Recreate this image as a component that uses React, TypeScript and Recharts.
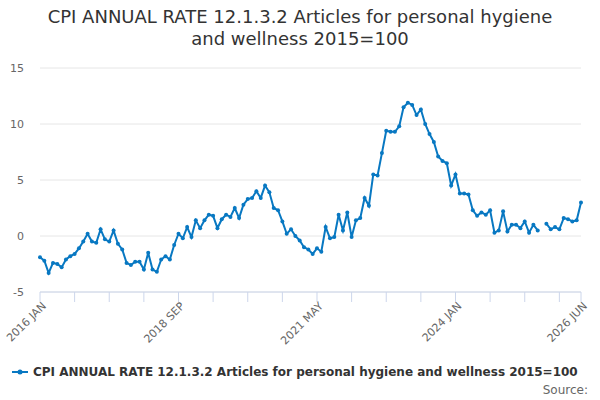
import React from 'react';
import {
  LineChart,
  Line,
  XAxis,
  YAxis,
  CartesianGrid,
  Legend
} from 'recharts';

const TITLE = 'CPI ANNUAL RATE 12.1.3.2 Articles for personal hygiene and wellness 2015=100';
const SERIES_NAME = 'CPI ANNUAL RATE 12.1.3.2 Articles for personal hygiene and wellness 2015=100';

const MONTH_NAMES = ['JAN', 'FEB', 'MAR', 'APR', 'MAY', 'JUN', 'JUL', 'AUG', 'SEP', 'OCT', 'NOV', 'DEC'];
const START_YEAR = 2016;

// annual rate, % (Jan 2016 .. Jun 2026), null = not published
const values: (number | null)[] = [
  -1.9, -2.2, -3.3, -2.4, -2.5, -2.8, -2.1, -1.8, -1.6, -1.1, -0.5, 0.2,
  -0.5, -0.6, 0.6, -0.3, -0.5, 0.5, -0.7, -1.2, -2.4, -2.6, -2.3, -2.3,
  -3.0, -1.5, -3.0, -3.2, -2.1, -1.8, -2.1, -0.8, 0.2, -0.2, 0.8, -0.1,
  1.4, 0.7, 1.4, 1.9, 1.8, 0.7, 1.5, 1.9, 1.7, 2.5, 1.6, 2.8,
  3.3, 3.4, 4.0, 3.4, 4.5, 3.9, 2.5, 2.3, 1.3, 0.2, 0.6, 0.0,
  -0.4, -1.0, -1.2, -1.6, -1.1, -1.4, 0.8, -0.2, -0.1, 1.9, 0.5, 2.1,
  -0.1, 1.4, 1.6, 3.4, 2.7, 5.5, 5.4, 7.4, 9.4, 9.3, 9.3, 9.8,
  11.5, 11.9, 11.7, 10.8, 11.3, 10.0, 9.1, 8.4, 7.1, 6.7, 6.5, 4.5,
  5.5, 3.8, 3.8, 3.7, 2.3, 1.8, 2.1, 1.9, 2.3, 0.3, 0.5, 2.2,
  0.4, 1.0, 1.0, 0.7, 1.3, 0.3, 1.0, 0.5, null, 1.1, 0.6, 0.8,
  0.6, 1.6, 1.5, 1.3, 1.4, 3.0
];

const categories: string[] = values.map(
  (_, i) => `${START_YEAR + Math.floor(i / 12)} ${MONTH_NAMES[i % 12]}`
);

const xTickIndexes = [0, 8, 16, 24, 32, 40, 48, 56, 64, 72, 80, 88, 96, 104, 112, 120, 125];
const xTickLabels = ['2016 JAN', '2018 SEP', '2021 MAY', '2024 JAN', '2026 JUN'];
const yTicks = [-5, 0, 5, 10, 15];

const data = categories.map((month, i) => ({ idx: i, month, value: values[i] }));

const FONT = '"DejaVu Sans", sans-serif';
const LINE_COLOR = '#0878c2';

const MonthTick = (props: any) => {
  const { x, y, payload } = props;
  const label = categories[payload.value];
  if (!xTickLabels.includes(label)) return null;
  return (
    <g transform={`translate(${x + 4},${y + 2})`}>
      <text
        x={0}
        y={0}
        dy="0.35em"
        textAnchor="end"
        transform="rotate(-45)"
        fill="#666666"
        fontSize={11}
        fontFamily={FONT}
      >
        {label}
      </text>
    </g>
  );
};

const LegendContent = () => (
  <div style={{ fontFamily: FONT, position: 'relative', height: 40 }}>
    <div style={{ position: 'absolute', left: 12, top: 13, display: 'flex', alignItems: 'center' }}>
      <svg width={16} height={10} style={{ marginRight: 5 }}>
        <line x1={0} y1={5} x2={16} y2={5} stroke={LINE_COLOR} strokeWidth={2} />
        <circle cx={8} cy={5} r={2.5} fill={LINE_COLOR} />
      </svg>
      <span style={{ fontSize: 12, fontWeight: 'bold', color: '#333333', whiteSpace: 'nowrap' }}>
        {SERIES_NAME}
      </span>
    </div>
    <div style={{ position: 'absolute', right: 12, top: 31, fontSize: 12, color: '#666666' }}>
      Source:
    </div>
  </div>
);

export default function App() {
  return (
    <div style={{ position: 'absolute', left: 0, top: 0, width: 600, height: 400, background: '#fff' }}>
      <div
        style={{
          position: 'absolute',
          left: 30,
          width: 540,
          top: 6,
          textAlign: 'center',
          fontFamily: FONT,
          fontSize: 18,
          lineHeight: '22px',
          color: '#333333'
        }}
      >
        {TITLE}
      </div>
      <LineChart
        width={600}
        height={400}
        data={data}
        margin={{ top: 68, right: 19, left: 0, bottom: 8 }}
      >
        <CartesianGrid stroke="#e6e6e6" vertical={false} />
        <XAxis
          dataKey="idx"
          type="number"
          domain={[0, 125]}
          ticks={xTickIndexes}
          interval={0}
          height={60}
          stroke="#ccd6eb"
          tickSize={10}
          tickMargin={0}
          tick={<MonthTick />}
        />
        <YAxis
          domain={[-5, 15]}
          ticks={yTicks}
          width={40}
          axisLine={false}
          tickLine={false}
          tickSize={0}
          tickMargin={16}
          tick={{ fill: '#666666', fontSize: 11, fontFamily: FONT }}
        />
        <Legend
          verticalAlign="bottom"
          height={40}
          wrapperStyle={{ left: 0, width: 600 }}
          content={<LegendContent />}
        />
        <Line
          type="linear"
          dataKey="value"
          name={SERIES_NAME}
          stroke={LINE_COLOR}
          strokeWidth={2}
          dot={{ r: 2, fill: LINE_COLOR, stroke: LINE_COLOR, strokeWidth: 0 }}
          connectNulls={false}
          isAnimationActive={false}
        />
      </LineChart>
    </div>
  );
}
